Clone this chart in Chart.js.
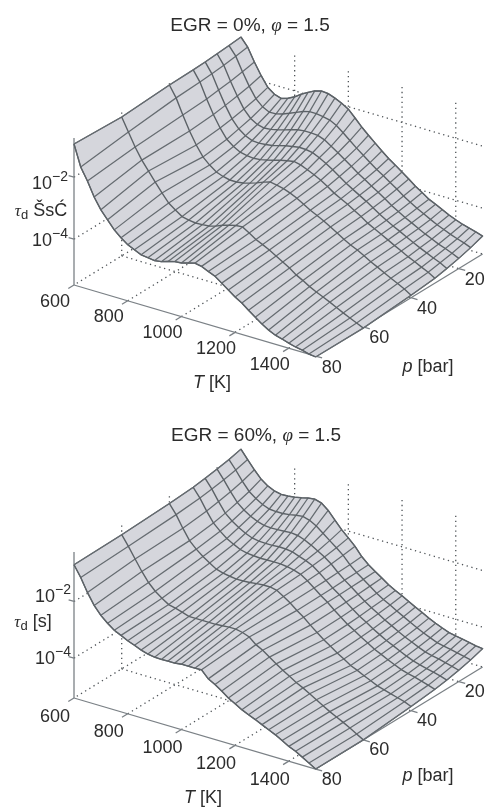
<!DOCTYPE html>
<html>
<head>
<meta charset="utf-8">
<title>Ignition delay maps</title>
<script src="https://cdn.jsdelivr.net/npm/chart.js@4"></script>
<style>
  html, body { margin: 0; padding: 0; background: #fff; }
  canvas { position: absolute; left: 0; }
</style>
</head>
<body>
<canvas id="chartTop" width="487" height="400" style="top:0"></canvas>
<canvas id="chartBottom" width="487" height="407" style="top:400px"></canvas>
<script>
// grid of the surfaces: one row of log10(tau_d) per pressure, one value per temperature
const temps = [600, 625, 650, 675, 700, 725, 750, 775, 800, 825, 850, 875, 900, 925, 950, 975, 1000, 1025, 1050,
  1075, 1100, 1125, 1150, 1175, 1200, 1225, 1250, 1275, 1300, 1325, 1350, 1375, 1400, 1425, 1450, 1475, 1500];
const pressures = [10, 15, 20, 25, 30, 40, 60, 80];

// EGR = 0 %
const egr0p10 = [-0.77,-1.03,-1.45,-1.82,-2.14,-2.30,-2.37,-2.30,-2.19,-2.04,-1.92,-1.81,-1.75,-1.77,-1.85,-1.95,-2.08,-2.30,-2.53,-2.73,-2.92,-3.11,-3.29,-3.44,-3.60,-3.76,-3.93,-4.07,-4.22,-4.32,-4.43,-4.54,-4.63,-4.71,-4.77,-4.83,-4.90];
const egr0p15 = [-0.81,-1.09,-1.53,-1.93,-2.27,-2.47,-2.58,-2.57,-2.51,-2.42,-2.33,-2.24,-2.18,-2.18,-2.21,-2.26,-2.37,-2.54,-2.73,-2.91,-3.08,-3.25,-3.41,-3.55,-3.70,-3.85,-4.01,-4.15,-4.28,-4.39,-4.51,-4.62,-4.71,-4.80,-4.88,-4.95,-5.04];
const egr0p20 = [-0.84,-1.15,-1.60,-2.01,-2.37,-2.61,-2.74,-2.79,-2.77,-2.72,-2.66,-2.59,-2.53,-2.50,-2.50,-2.52,-2.60,-2.74,-2.89,-3.04,-3.20,-3.36,-3.50,-3.64,-3.78,-3.93,-4.08,-4.21,-4.34,-4.45,-4.57,-4.68,-4.78,-4.88,-4.96,-5.05,-5.15];
const egr0p25 = [-0.87,-1.19,-1.65,-2.08,-2.45,-2.71,-2.87,-2.96,-2.98,-2.96,-2.93,-2.87,-2.81,-2.77,-2.73,-2.74,-2.78,-2.88,-3.00,-3.14,-3.29,-3.45,-3.58,-3.71,-3.84,-3.98,-4.13,-4.26,-4.38,-4.49,-4.61,-4.72,-4.83,-4.93,-5.03,-5.12,-5.24];
const egr0p30 = [-0.89,-1.22,-1.70,-2.14,-2.51,-2.81,-2.98,-3.10,-3.15,-3.17,-3.15,-3.10,-3.04,-2.98,-2.93,-2.89,-2.94,-3.03,-3.13,-3.24,-3.38,-3.53,-3.65,-3.76,-3.90,-4.03,-4.18,-4.30,-4.41,-4.53,-4.65,-4.76,-4.88,-4.98,-5.09,-5.19,-5.32];
const egr0p40 = [-0.91,-1.26,-1.75,-2.20,-2.59,-2.91,-3.11,-3.27,-3.35,-3.40,-3.40,-3.37,-3.31,-3.24,-3.15,-3.08,-3.12,-3.17,-3.25,-3.35,-3.48,-3.61,-3.72,-3.83,-3.96,-4.09,-4.23,-4.35,-4.45,-4.57,-4.70,-4.81,-4.93,-5.04,-5.15,-5.26,-5.40];
const egr0p60 = [-1.00,-1.42,-1.84,-2.20,-2.49,-2.78,-3.07,-3.33,-3.49,-3.64,-3.69,-3.72,-3.71,-3.69,-3.63,-3.54,-3.47,-3.42,-3.40,-3.53,-3.68,-3.78,-3.89,-4.02,-4.15,-4.28,-4.44,-4.56,-4.69,-4.80,-4.90,-5.00,-5.11,-5.22,-5.32,-5.42,-5.52];
const egr0p80 = [-0.93,-1.61,-2.00,-2.45,-2.80,-3.06,-3.32,-3.51,-3.67,-3.77,-3.87,-3.90,-3.93,-3.90,-3.83,-3.77,-3.75,-3.69,-3.63,-3.67,-3.77,-3.86,-4.02,-4.18,-4.34,-4.47,-4.64,-4.80,-4.96,-5.09,-5.19,-5.25,-5.32,-5.38,-5.42,-5.48,-5.51];

// EGR = 60 %
const egr60p10 = [-0.22,-0.52,-0.81,-1.07,-1.24,-1.35,-1.40,-1.39,-1.36,-1.31,-1.25,-1.22,-1.29,-1.48,-1.75,-2.02,-2.24,-2.47,-2.76,-2.98,-3.15,-3.31,-3.48,-3.61,-3.73,-3.86,-3.99,-4.11,-4.24,-4.35,-4.45,-4.54,-4.59,-4.63,-4.68,-4.73,-4.76];
const egr60p15 = [-0.33,-0.63,-0.96,-1.25,-1.43,-1.57,-1.66,-1.68,-1.68,-1.65,-1.60,-1.57,-1.64,-1.77,-1.96,-2.15,-2.33,-2.53,-2.79,-3.00,-3.17,-3.34,-3.52,-3.67,-3.80,-3.94,-4.07,-4.20,-4.32,-4.44,-4.54,-4.64,-4.69,-4.74,-4.79,-4.85,-4.90];
const egr60p20 = [-0.41,-0.72,-1.07,-1.38,-1.58,-1.73,-1.84,-1.91,-1.93,-1.92,-1.91,-1.89,-1.92,-2.00,-2.12,-2.26,-2.40,-2.58,-2.81,-3.01,-3.18,-3.37,-3.55,-3.71,-3.85,-4.00,-4.13,-4.27,-4.39,-4.50,-4.61,-4.71,-4.77,-4.82,-4.88,-4.94,-5.01];
const egr60p25 = [-0.48,-0.79,-1.16,-1.50,-1.71,-1.87,-2.00,-2.10,-2.14,-2.15,-2.15,-2.13,-2.14,-2.17,-2.26,-2.34,-2.45,-2.63,-2.83,-3.03,-3.20,-3.39,-3.57,-3.75,-3.89,-4.05,-4.19,-4.33,-4.44,-4.56,-4.67,-4.77,-4.84,-4.90,-4.96,-5.02,-5.10];
const egr60p30 = [-0.54,-0.85,-1.24,-1.59,-1.81,-2.00,-2.13,-2.25,-2.31,-2.33,-2.35,-2.34,-2.34,-2.34,-2.37,-2.42,-2.50,-2.66,-2.84,-3.04,-3.21,-3.41,-3.60,-3.78,-3.93,-4.09,-4.23,-4.38,-4.49,-4.61,-4.72,-4.82,-4.89,-4.95,-5.02,-5.09,-5.17];
const egr60p40 = [-0.60,-0.92,-1.33,-1.70,-1.93,-2.12,-2.28,-2.43,-2.50,-2.54,-2.57,-2.57,-2.55,-2.52,-2.50,-2.50,-2.55,-2.70,-2.86,-3.05,-3.22,-3.43,-3.62,-3.81,-3.97,-4.14,-4.28,-4.44,-4.54,-4.66,-4.77,-4.88,-4.95,-5.02,-5.09,-5.16,-5.26];
const egr60p60 = [-0.67,-1.01,-1.39,-1.76,-2.08,-2.32,-2.50,-2.65,-2.71,-2.78,-2.86,-2.86,-2.86,-2.86,-2.86,-2.84,-2.82,-2.82,-2.87,-2.96,-3.16,-3.29,-3.46,-3.63,-3.79,-3.93,-4.08,-4.20,-4.34,-4.48,-4.62,-4.76,-4.88,-5.00,-5.13,-5.27,-5.41];
const egr60p80 = [-0.70,-1.08,-1.54,-1.93,-2.21,-2.42,-2.60,-2.71,-2.83,-2.92,-3.02,-3.09,-3.13,-3.14,-3.13,-3.13,-3.10,-3.10,-3.10,-3.09,-3.34,-3.47,-3.63,-3.81,-3.94,-4.08,-4.19,-4.29,-4.40,-4.51,-4.62,-4.75,-4.89,-4.99,-5.13,-5.27,-5.41];

// axis ticks
const tempTicks = [600, 800, 1000, 1200, 1400];
const pressureTicks = [20, 40, 60, 80];
const tauTicks = [-4, -2];

const FILL = '#d5d6dc';
const MESH = '#666c71';
const CURVE = '#5c6267';
const AXIS = '#7b8186';
const DOTS = '#4f5458';
const TEXT = '#2c2c2c';
const SANS = '"Liberation Sans", Arial, sans-serif';
const SERIF = '"Liberation Serif", serif';

// fixed oblique view: temperature and pressure run over the floor, log tau goes straight up
function projector(y0, zScale, zFloor) {
  return (T, p, lg) => ({
    x: 74 + 0.2685 * (T - 600) + 2.385 * (80 - p),
    y: y0 + 0.0789 * (T - 600) - 1.457 * (80 - p) - zScale * (lg - zFloor)
  });
}

function lineSet(data, color, width, order, dash) {
  return {
    data: data,
    showLine: true,
    borderColor: color,
    borderWidth: width,
    borderDash: dash || [],
    pointRadius: 0,
    tension: 0,
    order: order
  };
}

function buildDatasets(rows, view, zFloor, zTop) {
  const sets = [];
  const tMin = temps[0], tMax = temps[temps.length - 1];
  const pMin = pressures[0], pMax = pressures[pressures.length - 1];
  const dotted = (a, b) => sets.push(lineSet([a, b], DOTS, 1.3, 4, [1.3, 3.6]));

  // dotted box behind the surface
  tempTicks.forEach(T => {
    if (T > tMin) {
      dotted(view(T, pMax, zFloor), view(T, pMin, zFloor));
      dotted(view(T, pMin, zFloor), view(T, pMin, zTop));
    }
  });
  pressureTicks.forEach(p => {
    if (p < pMax) {
      dotted(view(tMin, p, zFloor), view(tMax, p, zFloor));
      dotted(view(tMin, p, zFloor), view(tMin, p, zTop));
    }
  });
  dotted(view(tMin, pMin, zFloor), view(tMax, pMin, zFloor));
  dotted(view(tMin, pMin, zFloor), view(tMin, pMax, zFloor));
  dotted(view(tMin, pMin, zFloor), view(tMin, pMin, zTop));
  tauTicks.forEach(lg => {
    dotted(view(tMin, pMax, lg), view(tMin, pMin, lg));
    dotted(view(tMin, pMin, lg), view(tMax, pMin, lg));
  });

  // solid axes and their ticks
  const axisLine = (a, b) => sets.push(lineSet([a, b], AXIS, 1.3, 3));
  axisLine(view(tMin, pMax, zFloor), view(tMin, pMax, zTop));
  axisLine(view(tMin, pMax, zFloor), view(tMax, pMax, zFloor));
  axisLine(view(tMax, pMax, zFloor), view(tMax, pMin, zFloor));
  tempTicks.forEach(T => axisLine(view(T, pMax, zFloor), view(T, pMax + 2.4, zFloor)));
  pressureTicks.forEach(p => axisLine(view(tMax, p, zFloor), view(tMax + 24, p, zFloor)));
  tauTicks.forEach(lg => axisLine(view(tMin, pMax, lg), view(tMin - 20, pMax, lg)));

  // surface outline, the plugin below fills it before its own line is stroked
  const outline = [];
  rows[pressures.length - 1].forEach((lg, i) => outline.push(view(temps[i], pMax, lg)));
  pressures.slice().reverse().forEach(p => outline.push(view(tMax, p, rows[pressures.indexOf(p)][temps.length - 1])));
  temps.slice().reverse().forEach((T, i) => outline.push(view(T, pMin, rows[0][temps.length - 1 - i])));
  pressures.forEach(p => outline.push(view(tMin, p, rows[pressures.indexOf(p)][0])));
  const shape = lineSet(outline, MESH, 1.2, 2);
  shape.surfaceFill = FILL;
  sets.push(shape);

  // lines of constant temperature (thin) and constant pressure (heavier)
  temps.forEach((T, i) => {
    sets.push(lineSet(pressures.map((p, j) => view(T, p, rows[j][i])), MESH, 1.25, 1));
  });
  pressures.forEach((p, j) => {
    sets.push(lineSet(temps.map((T, i) => view(T, p, rows[j][i])), CURVE, 1.4, 0));
  });
  return sets;
}

// writes a row of differently styled pieces of text starting at x (or centred on it)
function writeRuns(ctx, x, y, runs, centre) {
  ctx.textBaseline = 'alphabetic';
  ctx.textAlign = 'left';
  let width = 0;
  runs.forEach(r => { ctx.font = r.font; width += ctx.measureText(r.text).width; });
  let cx = centre ? x - width / 2 : x;
  runs.forEach(r => {
    ctx.font = r.font;
    ctx.fillStyle = TEXT;
    ctx.fillText(r.text, cx, y + (r.rise || 0));
    cx += ctx.measureText(r.text).width;
  });
}

const font = (size, family, italic) => (italic ? 'italic ' : '') + size + 'px ' + (family || SANS);

function makePanel(canvasId, height, rows, opts) {
  const view = projector(opts.y0, opts.zScale, opts.zFloor);

  const surfacePlugin = {
    id: 'surfaceFill',
    beforeDatasetDraw(chart, args) {
      const ds = chart.data.datasets[args.index];
      if (!ds.surfaceFill) return;
      const ctx = chart.ctx, xs = chart.scales.x, ys = chart.scales.y;
      ctx.save();
      ctx.beginPath();
      ds.data.forEach((pt, i) => {
        const px = xs.getPixelForValue(pt.x), py = ys.getPixelForValue(pt.y);
        if (i === 0) ctx.moveTo(px, py); else ctx.lineTo(px, py);
      });
      ctx.closePath();
      ctx.fillStyle = ds.surfaceFill;
      ctx.fill();
      ctx.restore();
    }
  };

  const labelPlugin = {
    id: 'axisText',
    afterDraw(chart) {
      const ctx = chart.ctx, xs = chart.scales.x, ys = chart.scales.y;
      const at = pt => ({ x: xs.getPixelForValue(pt.x), y: ys.getPixelForValue(pt.y) });
      const big = font(18);
      ctx.save();

      // title
      writeRuns(ctx, opts.titleX, opts.titleY, [
        { text: opts.egrText + ', ', font: font(19) },
        { text: 'φ', font: font(19, SERIF, true) },
        { text: ' = 1.5', font: font(19) }
      ], true);

      // tick labels
      tempTicks.forEach(T => {
        const a = at(view(T, 80, opts.zFloor));
        writeRuns(ctx, a.x + opts.tOffset[0], a.y + opts.tOffset[1] + 6.5, [{ text: String(T), font: big }], true);
      });
      pressureTicks.forEach(p => {
        const a = at(view(1500, p, opts.zFloor));
        writeRuns(ctx, a.x + 16, a.y + opts.pDy + 6.5, [{ text: String(p), font: big }], true);
      });
      tauTicks.forEach((lg, i) => {
        const a = at(view(600, 80, lg));
        writeRuns(ctx, opts.zLabelX, a.y + opts.zDy[i] + 6.5, [
          { text: '10', font: big },
          { text: '−' + Math.abs(lg), font: font(14), rise: -8 }
        ]);
      });

      // axis titles
      writeRuns(ctx, opts.tTitle[0], opts.tTitle[1], [
        { text: 'T', font: font(18, SANS, true) },
        { text: ' [K]', font: big }
      ], true);
      writeRuns(ctx, opts.pTitle[0], opts.pTitle[1], [
        { text: 'p', font: font(18, SANS, true) },
        { text: ' [bar]', font: big }
      ], true);
      writeRuns(ctx, opts.tauTitle[0], opts.tauTitle[1], [
        { text: 'τ', font: font(17, SERIF, true) },
        { text: 'd', font: font(13), rise: 3 },
        { text: ' ' + opts.tauUnit, font: big }
      ], true);
      ctx.restore();
    }
  };

  return new Chart(document.getElementById(canvasId), {
    type: 'scatter',
    data: { datasets: buildDatasets(rows, view, opts.zFloor, opts.zTop) },
    options: {
      responsive: false,
      animation: false,
      layout: { padding: 0 },
      plugins: { legend: { display: false }, tooltip: { enabled: false } },
      scales: {
        x: { type: 'linear', display: false, min: 0, max: 487 },
        y: { type: 'linear', display: false, min: 0, max: height, reverse: true }
      }
    },
    plugins: [surfacePlugin, labelPlugin]
  });
}

makePanel('chartTop', 400, [egr0p10, egr0p15, egr0p20, egr0p25, egr0p30, egr0p40, egr0p60, egr0p80], {
  y0: 285, zScale: 31, zFloor: -5.48, zTop: -0.74,
  egrText: 'EGR = 0%', titleX: 250, titleY: 31,
  tOffset: [-19, 15], pDy: 10, zLabelX: 32, zDy: [0, 5],
  tTitle: [212, 388], pTitle: [428, 372], tauTitle: [41, 216], tauUnit: 'ŠsĆ'
});

makePanel('chartBottom', 407, [egr60p10, egr60p15, egr60p20, egr60p25, egr60p30, egr60p40, egr60p60, egr60p80], {
  y0: 298, zScale: 28.3, zFloor: -5.41, zTop: -0.25,
  egrText: 'EGR = 60%', titleX: 256, titleY: 41,
  tOffset: [-19, 17], pDy: 9, zLabelX: 35, zDy: [-1, -6],
  tTitle: [203, 403], pTitle: [428, 381], tauTitle: [33, 227], tauUnit: '[s]'
});
</script>
</body>
</html>
